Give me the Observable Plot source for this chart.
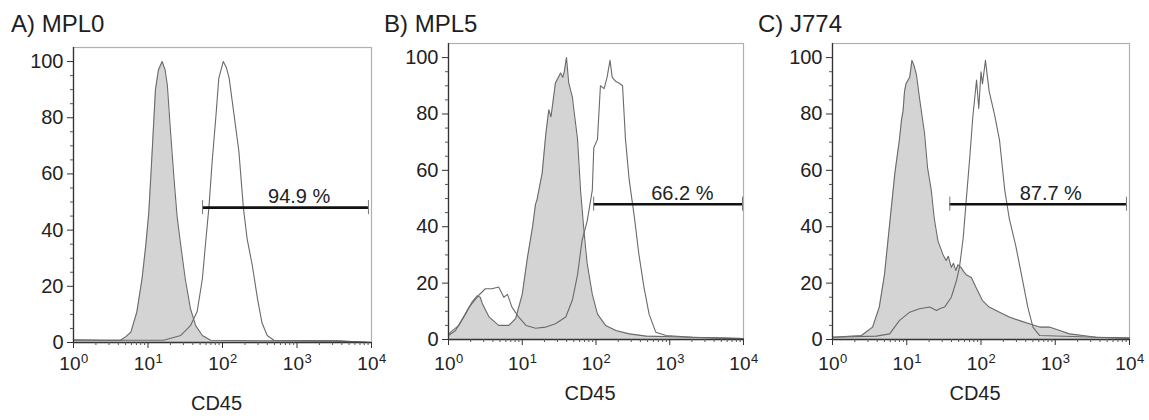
<!DOCTYPE html>
<html>
<head>
<meta charset="utf-8">
<script src="https://cdn.jsdelivr.net/npm/d3@7"></script>
<script src="https://cdn.jsdelivr.net/npm/@observablehq/plot@0.6"></script>
<style>
  html, body { margin: 0; padding: 0; background: #fff; }
  #root { position: relative; width: 1149px; height: 420px; overflow: hidden; background: #fff;
          font-family: "Liberation Sans", Arial, Helvetica, sans-serif; color: #222; }
  .panel { position: absolute; top: 0; }
  .panel svg { position: absolute; left: 0; top: 0; }
  .title { position: absolute; top: 12px; font-size: 24px; line-height: 24px; white-space: nowrap; color: #1e1e1e; }
</style>
</head>
<body>
<div id="root"></div>
<script>
// ---------- data ----------
const panelTitles = ["A) MPL0", "B) MPL5", "C) J774"];
const xLabel = "CD45";
const xTicks = [1, 10, 100, 1000, 10000];
const xTickExponents = ["0", "1", "2", "3", "4"];
const xMinorTicks = [2,3,4,5,6,7,8,9,20,30,40,50,60,70,80,90,200,300,400,500,600,700,800,900,2000,3000,4000,5000,6000,7000,8000,9000];
const yTicks = [0, 20, 40, 60, 80, 100];
const yMinorTicks = [5,10,15,25,30,35,45,50,55,65,70,75,85,90,95];

// Panel A (MPL0)
const aGrayCD45  = [1, 2.51, 4.27, 5.01, 5.89, 7.08, 8.32, 9.33, 10.23, 10.96, 11.48, 12.02, 12.59, 13.80, 15.49, 16.98, 18.20, 19.95, 22.39, 24.55, 27.54, 31.62, 37.15, 43.65, 53.70, 69.18, 316, 3548, 10000];
const aGrayCount = [1.0, 0.8, 0.8, 2.0, 3.7, 10.8, 22.7, 34.5, 46, 60, 70, 80, 90, 97, 100, 97, 91.5, 76, 58, 45, 34.5, 22.7, 12, 6, 2.5, 0.8, 0.6, 0.5, 0];
const aWhiteCD45  = [1, 16.22, 27.54, 37.15, 45.71, 53.70, 58.88, 66.07, 72.44, 81.28, 89.13, 102.3, 112.2, 123.0, 141.3, 166.0, 190.5, 213.8, 251.2, 295.1, 338.8, 398.1, 489.8, 3548, 10000];
const aWhiteCount = [0.8, 0.8, 2.5, 6, 11, 22.7, 34.5, 48.8, 64, 80, 94, 100, 98, 94, 82, 68, 48, 37, 27.4, 15.5, 7, 2.5, 0.8, 0.6, 0];

// Panel B (MPL5)
const bGrayCD45  = [1, 1.245, 1.698, 2.089, 2.455, 2.692, 2.884, 3.548, 4.786, 6.607, 8.128, 10, 11.75, 13.80, 15.14, 15.85, 18.62, 20.89, 22.91, 24.55, 25.70, 28.18, 33.11, 35.48, 37.15, 39.81, 42.66, 45.71, 47.86, 50.12, 56.23, 61.66, 69.18, 75.86, 89.13, 104.7, 134.9, 186.2, 281.8, 478.6, 1995, 10000];
const bGrayCount = [1.4, 3.2, 9, 13.3, 15.5, 15, 12.7, 8, 5, 5, 7.4, 16, 29, 40, 48, 49.5, 59, 73, 81.5, 79, 83, 91, 94.5, 93, 95, 100, 91, 88, 86, 81.5, 71, 53, 37.6, 27, 16, 9, 5, 3.2, 2, 1.2, 0.8, 0.3];
const bWhiteCD45  = [1, 1.380, 1.905, 2.570, 3.162, 3.890, 4.786, 5.623, 6.310, 7.244, 8.913, 11.22, 15.14, 20.89, 28.18, 38.90, 47.86, 56.23, 64.57, 75.86, 89.13, 93.33, 104.7, 114.8, 128.8, 141.3, 154.9, 166.0, 186.2, 204.2, 229.1, 251.2, 281.8, 331.1, 380.2, 446.7, 524.8, 645.7, 891.3, 1995, 10000];
const bWhiteCount = [2, 5, 11.5, 15.7, 18, 18, 18.6, 15, 16, 11.5, 8, 5, 4, 4.4, 5.6, 8, 14, 23, 35, 42, 53, 68, 71, 90, 89, 93, 99, 93, 91.5, 91, 90, 71, 56.6, 43.5, 30.5, 18.6, 9, 2.6, 1.4, 0.8, 0.3];

// Panel C (J774)
const cGrayCD45  = [1, 2.455, 3.467, 4.266, 5.012, 5.888, 6.918, 7.943, 8.511, 8.913, 9.333, 9.772, 10.96, 11.75, 12.59, 13.49, 14.79, 17.38, 19.05, 21.38, 23.44, 26.30, 30.90, 33.88, 36.31, 39.81, 42.66, 45.71, 49.0, 53.70, 58.9, 63.10, 74.13, 85.11, 104.7, 128.8, 177.8, 239.9, 331.1, 446.7, 616.6, 831.8, 1148, 1549, 2344, 3548, 10000];
const cGrayCount = [0.8, 1.4, 4.4, 11.5, 23, 41, 59, 70.6, 78, 81, 88, 90.7, 93, 99, 97, 94, 86, 73, 61, 53, 43, 35, 30, 28, 29.5, 25.6, 27, 24.5, 26.5, 25.6, 24, 23, 22, 18.6, 13.8, 11.5, 9.7, 8, 6.7, 5.6, 4.4, 4.4, 3.2, 2, 1.4, 0.8, 0.5];
const cWhiteCD45  = [1, 3.890, 5.888, 7.943, 10.96, 14.79, 20.42, 25.12, 28.18, 32.36, 39.81, 46.77, 51.29, 57.54, 63.10, 70.79, 77.62, 87.10, 93.33, 100, 104.7, 114.8, 128.8, 151.4, 177.8, 208.9, 239.9, 295.1, 363.1, 426.6, 501.2, 616.6, 3548, 10000];
const cWhiteCount = [0.8, 1.2, 2, 6.7, 9.7, 10.9, 11.5, 10.3, 11, 11.5, 15, 21, 25.6, 36, 49, 65, 79, 92, 82, 95, 90.7, 99, 88, 80, 70.6, 53, 43, 33, 21, 11.5, 4.4, 1.4, 0.8, 0.5];

// Gates (marker bars)
const gateLow    = [54, 93, 38];
const gateHigh   = [9100, 9700, 9100];
const gateLevel  = [48, 48, 48];
const gateLabels = ["94.9 %", "66.2 %", "87.7 %"];
const gateLabelX = [1070, 1480, 870];

// ---------- layout ----------
const FONT = '"Liberation Sans", Arial, Helvetica, sans-serif';
const layouts = [
  {left: 0,   width: 380, mL: 73, mR: 9,  mT: 47, mB: 78, tickDy: 27, expDy: 20, labelDy: 67, titleLeft: 11},
  {left: 380, width: 380, mL: 68, mR: 17, mT: 43, mB: 81, tickDy: 30, expDy: 23, labelDy: 60, titleLeft: 4},
  {left: 760, width: 389, mL: 72, mR: 20, mT: 43, mB: 81, tickDy: 30, expDy: 23, labelDy: 60, titleLeft: -2}
];
const series = [
  {gray: d3.zip(aGrayCD45, aGrayCount), white: d3.zip(aWhiteCD45, aWhiteCount)},
  {gray: d3.zip(bGrayCD45, bGrayCount), white: d3.zip(bWhiteCD45, bWhiteCount)},
  {gray: d3.zip(cGrayCD45, cGrayCount), white: d3.zip(cWhiteCD45, cWhiteCount)}
];

const root = document.getElementById("root");
const blank = () => "";

layouts.forEach((L, i) => {
  const gray = series[i].gray.map(([x, y]) => ({x, y}));
  const white = series[i].white.map(([x, y]) => ({x, y}));
  const gate = [{lo: gateLow[i], hi: gateHigh[i], y: gateLevel[i], label: gateLabels[i], lx: gateLabelX[i]}];
  const ticks = xTicks.map((t, k) => ({t, e: xTickExponents[k]}));

  const chart = Plot.plot({
    width: L.width,
    height: 420,
    marginLeft: L.mL, marginRight: L.mR, marginTop: L.mT, marginBottom: L.mB,
    style: {fontFamily: FONT, fontSize: "20px", color: "#222", background: "transparent", overflow: "visible"},
    x: {type: "log", domain: [1, 10000]},
    y: {domain: [0, 105]},
    marks: [
      Plot.frame({stroke: "#b0b0b0", strokeWidth: 1.2}),
      Plot.areaY(gray, {x: "x", y: "y", fill: "#d4d4d4", curve: "linear"}),
      Plot.lineY(gray, {x: "x", y: "y", stroke: "#6a6a6a", strokeWidth: 1.1, curve: "linear"}),
      Plot.lineY(white, {x: "x", y: "y", stroke: "#6a6a6a", strokeWidth: 1.1, curve: "linear"}),
      Plot.ruleY([0], {stroke: "#333", strokeWidth: 1.3}),
      Plot.ruleX([1], {stroke: "#333", strokeWidth: 1.3}),
      Plot.axisY(yTicks, {tickSize: 6, tickPadding: 4, fontSize: 20, label: null, stroke: "#333"}),
      Plot.axisY(yMinorTicks, {tickSize: 3, tickFormat: blank, label: null, stroke: "#555"}),
      Plot.axisX(xTicks, {tickSize: 6, tickFormat: blank, label: null, stroke: "#333"}),
      Plot.axisX(xMinorTicks, {tickSize: 3, tickFormat: blank, label: null, stroke: "#555"}),
      Plot.text(ticks, {x: "t", text: () => "10", frameAnchor: "bottom", textAnchor: "end", dx: 7, dy: L.tickDy, fontSize: 19, fill: "#222"}),
      Plot.text(ticks, {x: "t", text: "e", frameAnchor: "bottom", textAnchor: "start", dx: 7.5, dy: L.expDy, fontSize: 13, fill: "#222"}),
      Plot.ruleY(gate, {x1: "lo", x2: "hi", y: "y", stroke: "#111", strokeWidth: 2.6}),
      Plot.ruleX(gate, {x: "lo", y1: d => d.y - 2.5, y2: d => d.y + 2.5, stroke: "#777", strokeWidth: 1}),
      Plot.ruleX(gate, {x: "hi", y1: d => d.y - 2.5, y2: d => d.y + 2.5, stroke: "#777", strokeWidth: 1}),
      Plot.text(gate, {x: "lx", y: "y", text: "label", dy: -11, fontSize: 20, fill: "#222"}),
      Plot.text([xLabel], {text: d => d, frameAnchor: "bottom", dx: -6, dy: L.labelDy, fontSize: 20, fill: "#222"})
    ]
  });

  const panel = document.createElement("div");
  panel.className = "panel";
  panel.style.left = L.left + "px";
  panel.style.width = L.width + "px";
  panel.style.height = "420px";
  panel.appendChild(chart);
  const title = document.createElement("div");
  title.className = "title";
  title.style.left = L.titleLeft + "px";
  title.textContent = panelTitles[i];
  panel.appendChild(title);
  root.appendChild(panel);
});
</script>
</body>
</html>
